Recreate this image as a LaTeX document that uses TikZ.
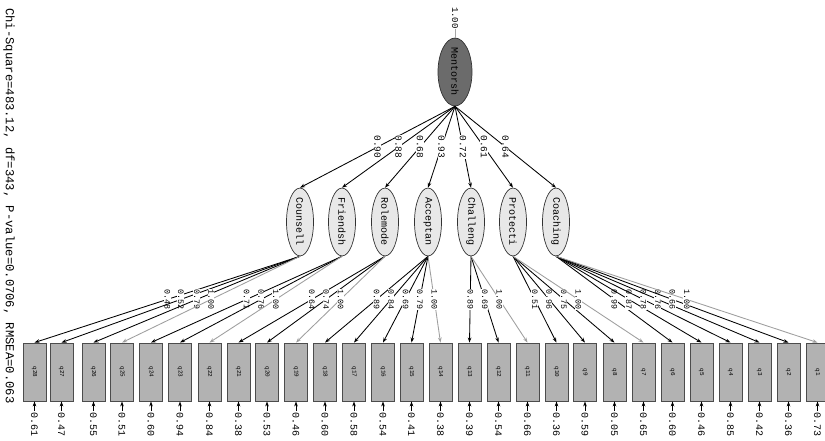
\documentclass[tikz,border=0pt]{standalone}
\usepackage{fontspec}
\setmonofont{Liberation Mono}
\usetikzlibrary{shapes.geometric,arrows.meta}
\begin{document}
\begin{tikzpicture}[x=1pt,y=-1pt,font=\ttfamily,
  ind/.style={draw=black!70,fill=black!30,minimum width=23pt,minimum height=58pt,inner sep=0pt,line width=0.9pt,font=\ttfamily\fontsize{6}{7}\selectfont},
  lat/.style={ellipse,draw=black!80,fill=black!9,minimum width=27pt,minimum height=58pt,inner sep=0pt,line width=0.7pt,font=\ttfamily\fontsize{10}{11}\selectfont},
  arr/.style={-{Stealth[length=5pt,width=3.6pt]},line width=0.85pt},
  lab/.style={rotate=-90,fill=white,inner sep=0.5pt,font=\ttfamily\fontsize{8.3}{9}\selectfont},
  labA/.style={rotate=-90,fill=white,inner sep=0.5pt,font=\ttfamily\fontsize{9.5}{10}\selectfont},
  errlab/.style={rotate=-90,anchor=west,inner sep=1pt,font=\ttfamily\fontsize{10}{11}\selectfont}]
\useasboundingbox (0,0) rectangle (825,441);
\fill[white] (0,0) rectangle (825,441);
% fit statistics
\node[rotate=-90,anchor=west,inner sep=0pt,font=\ttfamily\fontsize{12.2}{13}\selectfont] (fit) at (9,8)
  {Chi-Square=483.12, df=343, P-value=0.0706, RMSEA=0.063};
% second-order factor
\node[lat,fill=black!58,minimum width=34pt] (M) at (455,72) {\rotatebox{-90}{Mentorsh}};
\node[rotate=-90,anchor=west,inner sep=0pt,font=\ttfamily\fontsize{9}{10}\selectfont] (v) at (455,7) {1.00};
\draw[black!35,line width=0.4pt] (v.east) -- (M.north);
% first-order factors
\foreach \n/\t/\x/\l in {C/Counsell/300/0.90,F/Friendsh/342/0.88,R/Rolemode/385/0.68,A/Acceptan/428/0.93,H/Challeng/471/0.72,P/Protecti/513/0.61,O/Coaching/556/0.64}{
  \node[lat] (\n) at (\x,222) {\rotatebox{-90}{\t}};
  \draw[arr] (M.south) -- node[labA] {\l} (\n.north);
}
% indicators with error variances
\foreach \n/\x/\e in {28/34.5/0.61,27/61.5/0.47,26/93.5/0.55,25/122/0.51,24/151/0.60,23/180/0.94,22/209.5/0.84,21/238.5/0.38,20/267/0.53,19/296/0.46,18/325/0.60,17/354/0.58,16/383/0.54,15/411.5/0.41,14/440.5/0.38,13/469.5/0.39,12/498.5/0.54,11/527.5/0.66,10/556.5/0.36,9/585/0.59,8/614.5/0.05,7/643.5/0.65,6/672.5/0.60,5/701.5/0.46,4/730.5/0.85,3/759.5/0.42,2/788.5/0.36,1/817.5/0.73}{
  \node[ind] (q\n) at (\x,372) {\rotatebox{-90}{q\n}};
  \node[errlab] (e\n) at (\x,411) {\e};
  \draw[arr] (e\n.west) -- (q\n.south);
}
% loadings
\foreach \f/\q/\v/\c in {C/28/0.48/black,C/27/0.52/black,C/26/0.79/black,C/25/1.00/black!38,
  F/24/0.71/black,F/23/0.76/black,F/22/1.00/black!38,
  R/21/0.64/black,R/20/0.74/black,R/19/1.00/black!38,
  A/18/0.89/black,A/17/0.84/black,A/16/0.69/black,A/15/0.79/black,A/14/1.00/black!38,
  H/13/0.89/black,H/12/0.69/black,H/11/1.00/black!38,
  P/10/0.51/black,P/9/0.96/black,P/8/0.75/black,P/7/1.00/black!38,
  O/6/0.99/black,O/5/0.87/black,O/4/0.78/black,O/3/0.76/black,O/2/0.66/black,O/1/1.00/black!38}{
  \draw[arr,draw=\c] (\f.south) -- node[lab,text=black] {\v} (q\q.north);
}
\end{tikzpicture}
\end{document}
